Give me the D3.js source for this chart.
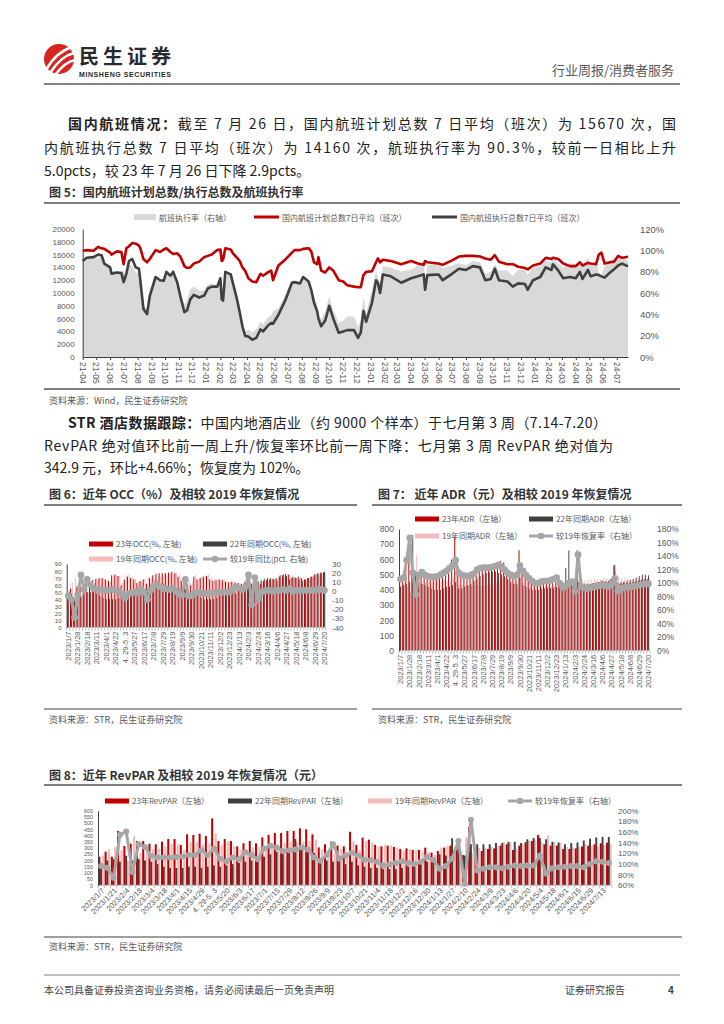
<!DOCTYPE html>
<html><head><meta charset="utf-8">
<script src="https://cdn.jsdelivr.net/npm/d3@7"></script>
<style>body{margin:0;background:#fff}</style>
</head><body>
<svg id="page" width="724" height="1024" xmlns="http://www.w3.org/2000/svg"></svg>
<script>
// ================= DATA =================
// Figure 5 (daily series)
const fig5Dates=["2021-04-01","2021-04-10","2021-04-25","2021-05-05","2021-05-13","2021-05-19","2021-06-01","2021-06-04","2021-06-16","2021-06-26",
"2021-07-01","2021-07-07","2021-07-13","2021-07-20","2021-07-28","2021-08-04","2021-08-07","2021-08-14","2021-08-22","2021-08-28",
"2021-09-10","2021-09-20","2021-09-28","2021-10-04","2021-10-13","2021-10-19","2021-10-28","2021-11-04","2021-11-13","2021-11-19",
"2021-11-26","2021-12-04","2021-12-16","2021-12-27","2022-01-04","2022-01-13","2022-01-25","2022-02-01","2022-02-04","2022-02-07",
"2022-02-12","2022-02-24","2022-03-01","2022-03-10","2022-03-16","2022-03-22","2022-03-28","2022-04-04","2022-04-13","2022-04-22",
"2022-05-01","2022-05-07","2022-05-19","2022-05-25","2022-05-29","2022-06-10","2022-06-25","2022-07-10","2022-07-16","2022-07-28",
"2022-08-04","2022-08-16","2022-08-22","2022-08-28","2022-09-04","2022-09-07","2022-09-13","2022-09-22","2022-10-01","2022-10-10",
"2022-10-22","2022-11-01","2022-11-10","2022-11-25","2022-12-04","2022-12-10","2022-12-16","2022-12-22","2023-01-04","2023-01-13",
"2023-01-17","2023-01-22","2023-01-28","2023-02-15","2023-03-10","2023-04-01","2023-04-16","2023-04-29","2023-05-02","2023-05-07",
"2023-06-01","2023-06-10","2023-07-01","2023-07-16","2023-08-01","2023-08-16","2023-09-01","2023-09-13","2023-09-25","2023-10-04",
"2023-10-13","2023-11-01","2023-11-13","2023-11-25","2023-12-10","2023-12-16","2023-12-28","2024-01-13","2024-01-25","2024-02-07",
"2024-02-10","2024-02-22","2024-03-04","2024-03-19","2024-04-01","2024-04-10","2024-04-16","2024-04-28","2024-05-04","2024-05-16",
"2024-05-22","2024-05-28","2024-06-04","2024-06-16","2024-06-25","2024-07-04","2024-07-13","2024-07-26"];
const fig5Plan=[16600,16700,16600,17200,17000,16900,16300,16000,16500,16400,
14500,17000,17300,17800,17700,17400,17000,15300,14800,15300,
16700,16400,16800,17000,16400,16100,16200,15700,14200,13900,
14000,14600,14900,15600,15800,16000,16700,16800,15000,15200,
17000,16800,16200,15500,15000,14000,13500,12300,11800,11700,
13000,12700,13300,13500,12000,14300,15200,16300,16700,16700,
16900,17000,16500,14800,14500,15600,13500,13200,14000,13500,
12000,11800,11200,11000,10900,10900,12800,13300,13400,14800,
15400,14800,15200,15000,14500,15000,14600,14400,15000,14800,
14600,14400,15100,15700,15800,15800,15700,15400,15200,15900,
14900,14500,14500,14100,13900,13700,14300,14600,15500,15300,
15500,15300,14600,14200,14200,14800,14300,14700,14600,14500,
16000,16300,14600,14800,14900,15800,15500,15670];
const fig5Exec=[15000,15500,15600,16000,15900,14600,14000,13000,13200,13100,
11700,13000,15000,15300,14000,13800,12000,7500,6700,9500,
12500,12000,11900,13300,12700,13300,11700,9500,7000,7300,
9000,9700,9300,9600,10700,11000,11000,12300,9000,8800,
13300,12900,11500,9000,7000,4800,3300,3200,2700,3000,
4300,4000,5000,5300,5200,6600,8800,11600,11700,11500,
12500,11800,10500,8500,7200,6000,4800,5700,8000,6000,
3800,4000,4200,4200,3000,3800,7200,5500,8500,12000,
11600,10000,12900,12600,11600,12300,12600,12900,10500,12800,
12900,12000,13000,13800,13600,14200,14000,12000,12200,13800,
12000,11800,11000,11500,11400,10500,12000,12500,14000,13600,
14500,13500,12300,12500,12300,13300,12200,13600,12600,12900,
12800,12600,12400,13200,13700,14300,14600,14160];
const fig5Rate=[90,93,94,93,94,86,86,81,80,80,
81,76,87,86,79,79,71,49,45,62,
75,73,71,78,77,83,72,61,49,53,
64,66,62,62,68,69,66,73,60,58,
78,77,71,58,47,34,24,26,23,26,
33,31,38,39,43,46,58,71,70,69,
74,69,64,57,50,38,36,43,57,44,
32,34,38,38,28,35,56,41,63,81,
75,68,85,84,80,82,86,90,70,86,
88,83,86,88,86,90,89,78,80,87,
81,81,76,82,82,77,84,86,90,89,
94,88,84,88,87,90,85,93,86,89,
80,77,85,89,92,91,94,90];
const fig5LeftTicks=[0,2000,4000,6000,8000,10000,12000,14000,16000,18000,20000];
const fig5RightTicks=[0,20,40,60,80,100,120];

// Weekly STR categories (figures 6-8)
const weekCats=["2023/1/7","2023/1/14","2023/1/21","2023/1/28","2023/2/4","2023/2/11","2023/2/18","2023/2/25","2023/3/4","2023/3/11",
"2023/3/18","2023/3/25","2023/4/1","2023/4/8","2023/4/15","2023/4/22","2023/4/29","2023/5/6","4. 29-5. 3","2023/5/13",
"2023/5/20","2023/5/27","2023/6/3","2023/6/10","2023/6/17","2023/6/24","2023/7/1","2023/7/8","2023/7/15","2023/7/22",
"2023/7/29","2023/8/5","2023/8/12","2023/8/19","2023/8/26","2023/9/2","2023/9/9","2023/9/16","2023/9/23","2023/9/30",
"2023/10/7","2023/10/14","2023/10/21","2023/10/28","2023/11/4","2023/11/11","2023/11/18","2023/11/25","2023/12/2","2023/12/9",
"2023/12/16","2023/12/23","2023/12/30","2024/1/6","2024/1/13","2024/1/20","2024/1/27","2024/2/3","2024/2/10","2024/2/17",
"2024/2/24","2024/3/2","2024/3/9","2024/3/16","2024/3/23","2024/3/30","2024/4/6","2024/4/13","2024/4/20","2024/4/27",
"2024/5/4","2024/5/11","2024/5/18","2024/5/25","2024/6/1","2024/6/8","2024/6/15","2024/6/22","2024/6/29","2024/7/6",
"2024/7/13","2024/7/20"];

// Figure 6: OCC (%)
const occ23=[48,55,42,58,60,62,64,66,67,69, 70,70,68,66,74,75,73,60,68,72, 70,68,63,66,68,62,70,74,76,77,
 77,77,78,79,77,72,66,70,62,60, 72,68,70,72,73,68,66,67,68,67, 65,64,65,64,63,62,64,66,50,70,
 55,62,66,67,68,69,70,72,74,76, 75,70,71,72,70,68,70,72,74,76, 77,78];
const occ22=[45,48,42,40,45,48,50,50,50,48, 45,42,40,40,40,40,42,40,45,45, 46,48,50,52,53,54,56,58,60,62,
 62,60,58,55,55,56,55,55,50,48, 50,45,42,40,40,40,40,42,45,48, 50,52,50,48,55,50,58,60,62,64,
 66,67,69,70,70,68,66,74,75,73, 68,72,70,68,66,68,70,72,76,77, 78,79];
const occ19=[53,64,71,62,42,60,51,59,64,67, 68,69,67,65,72,74,73,63,75,75, 72,69,65,64,69,71,69,68,69,72,
 74,74,76,76,77,75,70,57,67,65, 74,69,72,74,76,70,68,68,69,68, 66,65,63,59,59,60,59,48,65,55,
 64,63,66,66,67,69,69,71,72,75, 72,70,70,71,69,67,69,71,73,74, 75,77];
const occVs19=[-5,-9,-29,-4,18,2,13,7,3,2, 2,1,1,1,2,1,0,-3,-7,-3, -2,-1,-2,2,-1,-9,1,6,7,5,
 3,3,2,3,0,-3,-4,13,-5,-5, -2,-1,-2,-2,-3,-2,-2,-1,-1,-1, -1,-1,2,5,4,2,5,18,-15,15,
 -9,-1,0,1,1,0,1,1,2,1, 3,0,1,1,1,1,1,1,1,2, 2,1];

// Figure 7: ADR (yuan)
const adr23=[460,480,560,650,510,520,500,505,500,495, 490,500,505,520,530,540,550,600,750,500,
 480,475,470,480,490,510,520,525,530,535, 540,560,580,590,580,540,510,490,470,660,
 530,510,480,460,440,430,430,440,440,440, 445,450,440,420,430,440,450,470,660,450,
 430,430,435,440,445,450,460,455,450,470, 560,430,440,445,445,445,450,455,460,465, 470,470];
const adr22=[420,430,440,450,760,520,450,440,430,420, 410,400,400,400,410,420,420,430,450,410,
 410,420,430,440,460,470,490,500,510,515, 520,520,510,500,490,470,450,440,440,480,
 430,420,410,400,400,400,405,410,410,410, 410,420,430,430,543,659,470,460,450,445,
 440,440,440,445,450,450,455,455,460,470, 565,450,450,455,460,465,470,480,490,500, 500,495];
const adr19=[434,444,418,389,443,627,446,435,446,450, 450,459,459,464,461,458,451,476,560,435,
 429,428,427,429,430,425,426,427,431,435, 435,448,457,476,483,470,455,445,420,524,
 449,455,449,447,440,430,422,427,427,423, 420,417,440,452,448,440,441,534,465,474,
 462,467,468,468,468,469,474,474,474,475, 523,489,478,478,473,473,474,474,474,474, 475,475];
const adrRec=[106,108,134,167,115,83,112,116,112,110, 109,109,110,112,115,118,122,126,134,115,
 112,111,110,112,114,120,122,123,123,123, 124,125,127,124,120,115,112,110,112,126,
 118,112,107,103,100,100,102,103,103,104, 106,108,100,93,96,100,102,88,142,95,
 93,92,93,94,95,96,97,96,95,99, 107,88,92,93,94,94,95,96,97,98, 99,99];

// Figure 8: RevPAR (yuan)
const rev23=[230,271,230,437,316,335,355,356,335,330, 351,372,372,324,410,405,415,397,538,356,
 372,356,313,338,356,338,386,405,421,421, 437,437,458,450,410,305,330,351,320,313,
 431,324,383,367,324,313,319,308,292,297, 284,284,303,263,276,303,318,289,243,470,
 265,276,292,297,319,330,284,319,346,356, 405,330,319,320,292,292,297,311,319,330, 338,343];
const rev22=[180,200,210,190,238,200,210,200,190,170, 150,140,140,140,150,150,140,150,160,150,
 160,170,180,190,200,210,230,250,270,290, 300,372,300,280,260,220,200,190,200,170,
 190,160,150,140,140,130,130,130,140,150, 160,170,190,210,250,240,378,330,240,330,
 330,330,330,340,340,350,350,340,370,380, 380,370,350,345,330,340,345,360,375,385, 390,388];
const rev19=[240,291,311,282,196,394,259,270,291,295, 313,332,329,284,350,346,329,339,417,324,
 354,318,287,277,304,310,299,302,321,340, 347,344,350,354,366,288,282,256,291,270,
 356,279,355,343,312,323,322,302,278,291, 284,273,268,244,303,316,289,202,386,257,
 301,303,311,316,347,347,293,332,357,367, 349,402,347,340,307,304,309,331,319,314, 325,336];
const revRec=[96,93,74,155,161,85,137,132,115,112, 112,112,113,114,117,117,126,117,129,110,
 105,112,109,122,117,109,129,134,131,124, 126,127,131,127,112,106,117,137,110,116,
 121,116,108,107,104,97,99,102,105,102, 100,104,113,108,91,96,110,143,63,183,
 88,91,94,94,92,95,97,96,97,97, 116,82,92,94,95,96,96,94,100,105, 104,102];

// ================= DRAWING =================
const FONT='"Noto Sans CJK SC","Noto Sans",sans-serif';
const NUMF='"Liberation Sans",Arial,sans-serif';
const RED='#c00000', DARK='#404040', PINK='#f4bcbc', GREY='#a6a6a6', AXC='#595959';
const svg=d3.select('#page').style('font-family',FONT);

function txt(x,y,s,o={}){
  const t=svg.append('text').attr('x',x).attr('y',y).text(s)
    .attr('font-size',o.size||12).attr('fill',o.fill||'#222')
    .attr('font-weight',o.bold?'bold':'normal');
  if(o.anchor) t.attr('text-anchor',o.anchor);
  if(o.family) t.attr('font-family',o.family);
  if(o.len) t.attr('textLength',o.len).attr('lengthAdjust','spacing');
  return t;
}
function richLine(x,y,parts,o={}){
  const t=svg.append('text').attr('x',x).attr('y',y).attr('font-size',o.size||14).attr('fill','#222');
  parts.forEach(p=>t.append('tspan').text(p[0]).attr('font-weight',p[1]?'bold':'normal'));
  if(o.len) t.attr('textLength',o.len).attr('lengthAdjust','spacing');
  return t;
}
function hline(x1,x2,y,w,c){svg.append('line').attr('x1',x1).attr('x2',x2).attr('y1',y).attr('y2',y).attr('stroke',c).attr('stroke-width',w);}

// ---- header ----
const logo=svg.append('g');
logo.append('circle').attr('cx',59).attr('cy',59).attr('r',15).attr('fill','#d7241f');
[[46,70,56,52,72,47],[50,73,61,56,74,53],[55,75,65,62,75,60]].forEach(p=>{
  logo.append('path').attr('d',`M${p[0]},${p[1]} Q${p[2]},${p[3]} ${p[4]},${p[5]}`).attr('fill','none').attr('stroke','#fff').attr('stroke-width',2.6).attr('stroke-linecap','round');
});
txt(79,63.5,'民生证券',{size:20,bold:true,fill:'#2a2a2a',len:92});
txt(79,77,'MINSHENG SECURITIES',{size:7,bold:true,fill:'#2a2a2a',len:92,family:NUMF});
txt(674,75,'行业周报/消费者服务',{size:13,fill:'#595959',anchor:'end'});
hline(44,680,84,1.5,'#595959');

// ---- paragraph 1 ----
richLine(68,129,[['国内航班情况：',true],['截至 7 月 26 日，国内航班计划总数 7 日平均（班次）为 15670 次，国',false]],{len:608});
richLine(44,153,[['内航班执行总数 7 日平均（班次）为 14160 次，航班执行率为 90.3%，较前一日相比上升',false]],{len:632});
richLine(44,176,[['5.0pcts，较 23 年 7 月 26 日下降 2.9pcts。',false]]);

// ---- figure 5 ----
txt(49,197,'图 5：国内航班计划总数/执行总数及航班执行率',{size:12,bold:true,fill:'#333'});
hline(44,680,203,2,'#7f7f7f');
const parse=d3.timeParse('%Y-%m-%d');
const f5=fig5Dates.map((d,i)=>({date:parse(d),plan:fig5Plan[i],exec:fig5Exec[i],rate:fig5Rate[i]}));
const x5=d3.scaleTime().domain([parse('2021-04-01'),parse('2024-07-26')]).range([82.7,628]);
const y5=d3.scaleLinear().domain([0,20000]).range([357,229]);
const y5r=d3.scaleLinear().domain([0,120]).range([357,229]);
const g5=svg.append('g');
g5.append('path').datum(f5).attr('fill','#d9d9d9')
  .attr('d',d3.area().x(d=>x5(d.date)).y0(357).y1(d=>y5r(d.rate)));
g5.append('path').datum(f5).attr('fill','none').attr('stroke',RED).attr('stroke-width',2.6).attr('stroke-linejoin','round')
  .attr('d',d3.line().x(d=>x5(d.date)).y(d=>y5(d.plan)));
g5.append('path').datum(f5).attr('fill','none').attr('stroke',DARK).attr('stroke-width',2.6).attr('stroke-linejoin','round')
  .attr('d',d3.line().x(d=>x5(d.date)).y(d=>y5(d.exec)));
const ax5=g5.append('g').attr('transform','translate(82.7,0)')
  .call(d3.axisLeft(y5).tickValues(fig5LeftTicks).tickSize(0).tickPadding(8).tickFormat(d3.format('d')));
ax5.select('.domain').attr('stroke','#404040');
ax5.selectAll('text').attr('font-size',8).attr('fill',AXC).attr('font-family',NUMF);
const months=d3.timeMonth.range(parse('2021-04-01'),parse('2024-07-02'));
const bx5=g5.append('g').attr('transform','translate(0,357)')
  .call(d3.axisBottom(x5).tickValues(months).tickSize(3).tickSizeOuter(0).tickFormat(()=>''));
bx5.select('.domain').attr('stroke','#404040');
bx5.selectAll('line').attr('stroke','#404040');
const fmtM=d3.timeFormat('%y-%m');
months.forEach(m=>{
  g5.append('text').attr('transform',`translate(${x5(m)},362) rotate(90)`).attr('dy','0.35em')
    .attr('font-size',8.5).attr('fill',AXC).attr('font-family',NUMF).text(fmtM(m));
});
const rx5=g5.append('g').attr('transform','translate(636,0)')
  .call(d3.axisRight(y5r).tickValues(fig5RightTicks).tickSize(0).tickPadding(4).tickFormat(d=>d+'%'));
rx5.select('.domain').remove();
rx5.selectAll('text').attr('font-size',9.5).attr('fill',AXC).attr('font-family',NUMF);
// legend 5
g5.append('rect').attr('x',134).attr('y',214).attr('width',22).attr('height',6).attr('fill','#d9d9d9');
txt(159,220.5,'航班执行率（右轴）',{size:8,fill:AXC});
g5.append('line').attr('x1',254).attr('x2',279).attr('y1',217).attr('y2',217).attr('stroke',RED).attr('stroke-width',3);
txt(282,220.5,'国内航班计划总数7日平均（班次）',{size:8,fill:AXC});
g5.append('line').attr('x1',432).attr('x2',457).attr('y1',217).attr('y2',217).attr('stroke',DARK).attr('stroke-width',3);
txt(460,220.5,'国内航班执行总数7日平均（班次）',{size:8,fill:AXC});
hline(44,680,389,2,'#7f7f7f');
txt(49,404,'资料来源：Wind，民生证券研究院',{size:9,fill:'#595959'});

// ---- paragraph 2 ----
richLine(68,428,[['STR 酒店数据跟踪：',true],['中国内地酒店业（约 9000 个样本）于七月第 3 周（7.14-7.20）',false]],{len:539});
richLine(44,451,[['RevPAR 绝对值环比前一周上升/恢复率环比前一周下降：七月第 3 周 RevPAR 绝对值为',false]],{len:569});
richLine(44,473,[['342.9 元，环比+4.66%；恢复度为 102%。',false]]);

// ---- bar chart helper ----
function barChart(o){
  const g=svg.append('g');
  const n=weekCats.length;
  const x=d3.scaleBand().domain(d3.range(n)).range([o.x0,o.x1]).paddingInner(0.1).paddingOuter(0.05);
  const yl=d3.scaleLinear().domain(o.ld).range([o.yb,o.yt]);
  const yr=d3.scaleLinear().domain(o.rd).range([o.yb,o.yt]);
  const bw=x.bandwidth();
  [{v:o.pink,c:PINK,off:0.6,w:0.4},{v:o.dark,c:DARK,off:0.32,w:0.34},{v:o.red,c:RED,off:0,w:0.36}].forEach(s=>{
    g.append('g').selectAll('rect').data(s.v).join('rect')
      .attr('x',(d,i)=>x(i)+s.off*bw).attr('width',s.w*bw)
      .attr('y',d=>yl(d)).attr('height',d=>yl(o.ld[0])-yl(d)).attr('fill',s.c);
  });
  g.append('line').attr('x1',o.x0).attr('x2',o.x1).attr('y1',o.yb).attr('y2',o.yb).attr('stroke','#bfbfbf');
  d3.range(n+1).forEach(i=>{
    const xx=o.x0+(o.x1-o.x0)*i/n;
    g.append('line').attr('x1',xx).attr('x2',xx).attr('y1',o.yb).attr('y2',o.yb+3).attr('stroke','#bfbfbf');
  });
  const la=g.append('g').attr('transform',`translate(${o.x0},0)`)
    .call(d3.axisLeft(yl).tickValues(o.lt).tickSize(0).tickPadding(o.lpad||5).tickSizeOuter(0));
  la.select('.domain').attr('stroke','#404040');
  la.selectAll('text').attr('font-size',o.lfs||8.5).attr('fill',AXC).attr('font-family',NUMF);
  const ra=g.append('g').attr('transform',`translate(${o.rx},0)`)
    .call(d3.axisRight(yr).tickValues(o.rt).tickSize(0).tickPadding(0).tickFormat(o.rf));
  ra.select('.domain').remove();
  ra.selectAll('text').attr('font-size',o.rfs||8.5).attr('fill',AXC).attr('font-family',NUMF);
  g.append('path').datum(o.gray).attr('fill','none').attr('stroke',GREY).attr('stroke-width',o.lw||3)
    .attr('d',d3.line().x((d,i)=>x(i)+bw/2).y(d=>yr(d)));
  g.append('g').selectAll('circle').data(o.gray).join('circle')
    .attr('cx',(d,i)=>x(i)+bw/2).attr('cy',d=>yr(d)).attr('r',o.mr||3.2).attr('fill',GREY);
  weekCats.forEach((c,i)=>{
    if(i%o.every!==0) return;
    const cx=x(i)+bw/2;
    g.append('text').attr('transform',`translate(${cx+(o.ldx||0)},${o.yb+4}) rotate(${o.rot})`)
      .attr('text-anchor','end').attr('dy','0.35em').attr('font-size',o.xfs||7.5)
      .attr('font-family',NUMF).attr('fill',AXC).text(c);
  });
  return g;
}
function legendRect(x,y,c,label){
  svg.append('rect').attr('x',x).attr('y',y-2.5).attr('width',24).attr('height',5).attr('fill',c);
  txt(x+27,y+3,label,{size:8,fill:AXC});
}
function legendLine(x,y,label){
  svg.append('line').attr('x1',x).attr('x2',x+24).attr('y1',y).attr('y2',y).attr('stroke',GREY).attr('stroke-width',3);
  svg.append('circle').attr('cx',x+12).attr('cy',y).attr('r',3.2).attr('fill',GREY);
  txt(x+27,y+3,label,{size:8,fill:AXC});
}

// ---- figure 6 ----
txt(49,499,'图 6：近年 OCC（%）及相较 2019 年恢复情况',{size:12,bold:true,fill:'#333'});
hline(44,357,505,2,'#7f7f7f');
barChart({x0:66.7,x1:326,yb:627.5,yt:564,ld:[0,90],rd:[-40,30],lt:d3.range(0,91,10),rt:d3.range(-40,31,10),
  rx:332,rf:d=>d,red:occ23,dark:occ22,pink:occ19,gray:occVs19,every:3,rot:-90,mr:3.4,lfs:6.2,rfs:8});
legendRect(89,544,RED,'23年OCC(%, 左轴)');
legendRect(203,544,DARK,'22年同期OCC(%, 左轴)');
legendRect(89,559,PINK,'19年同期OCC(%, 左轴)');
legendLine(203,559,'较19年同比(pct. 右轴)');

// ---- figure 7 ----
txt(378,499,'图 7：  近年 ADR（元）及相较 2019 年恢复情况',{size:12,bold:true,fill:'#333'});
hline(372,682,505,2,'#7f7f7f');
barChart({x0:399,x1:650,yb:650.7,yt:529,ld:[0,800],rd:[0,180],lt:d3.range(0,801,100),rt:d3.range(0,181,20),
  rx:657,rf:d=>d+'%',red:adr23,dark:adr22,pink:adr19,gray:adrRec,every:3,rot:-90,mr:3.4,lfs:8.5,rfs:8.5});
legendRect(415,519,RED,'23年ADR（左轴）');
legendRect(529,519,DARK,'22年同期ADR（左轴）');
legendRect(415,536,PINK,'19年同期ADR（左轴）');
legendLine(529,536,'较19年恢复率（右轴）');

hline(44,357,709,1.5,'#7f7f7f');
hline(372,682,709,1.5,'#7f7f7f');
txt(49,723,'资料来源：STR，民生证券研究院',{size:9,fill:'#595959'});
txt(378,723,'资料来源：STR，民生证券研究院',{size:9,fill:'#595959'});

// ---- figure 8 ----
txt(49,780,'图 8：近年 RevPAR 及相较 2019 年恢复情况（元）',{size:12,bold:true,fill:'#333'});
hline(44,682,785,2,'#7f7f7f');
barChart({x0:98,x1:612,yb:885.3,yt:810.7,ld:[0,600],rd:[60,200],lt:d3.range(0,601,50),rt:d3.range(60,201,20),
  rx:618,rf:d=>d+'%',red:rev23,dark:rev22,pink:rev19,gray:revRec,every:2,rot:-45,mr:3,lfs:5.4,lpad:5,rfs:8,ldx:2});
legendRect(105,801,RED,'23年RevPAR（左轴）');
legendRect(228,801,DARK,'22年同期RevPAR（左轴）');
legendRect(368,801,PINK,'19年同期RevPAR（左轴）');
legendLine(508,801,'较19年恢复率（右轴）');
hline(44,682,937,1.5,'#7f7f7f');
txt(49,950,'资料来源：STR，民生证券研究院',{size:9,fill:'#595959'});

// ---- footer ----
hline(44,680,975,1,'#7f7f7f');
txt(44,994,'本公司具备证券投资咨询业务资格，请务必阅读最后一页免责声明',{size:10,fill:'#444'});
txt(565,994,'证券研究报告',{size:10,fill:'#444'});
txt(668,994,'4',{size:10,bold:true,fill:'#444'});
</script>
</body></html>
